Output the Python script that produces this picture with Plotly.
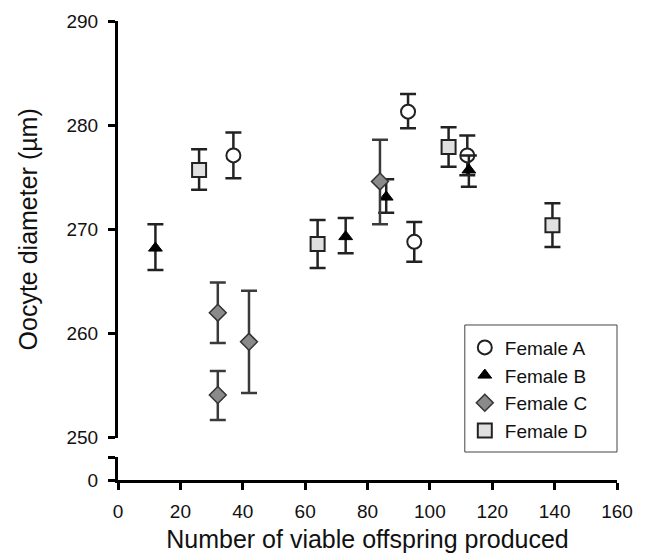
import plotly.graph_objects as go

# Data
a_x = [37, 93, 95, 112]
a_y = [277.1, 281.3, 268.8, 277.1]
a_up = [2.2, 1.7, 1.9, 1.9]
a_dn = [2.2, 1.6, 1.9, 1.9]

b_x = [12, 73, 86, 112.5]
b_y = [268.2, 269.3, 273.1, 275.7]
b_up = [2.3, 1.8, 1.7, 1.4]
b_dn = [2.1, 1.6, 1.5, 1.6]

c_x = [32, 32, 42, 84]
c_y = [262.0, 254.1, 259.2, 274.6]
c_up = [2.9, 2.3, 4.9, 4.0]
c_dn = [2.9, 2.4, 4.9, 4.1]

d_x = [26, 64, 106, 139.3]
d_y = [275.7, 268.6, 277.9, 270.4]
d_up = [2.0, 2.3, 1.9, 2.1]
d_dn = [1.9, 2.3, 1.9, 2.1]

x_ticks = [0, 20, 40, 60, 80, 100, 120, 140, 160]
y_ticks = [250, 260, 270, 280, 290]

FONT = "Liberation Sans, Arial, Helvetica, sans-serif"

def err(up, dn, color="#222"):
    return dict(type="data", symmetric=False, array=up, arrayminus=dn,
                color=color, thickness=2.5, width=8)

fig = go.Figure()
fig.add_trace(go.Scatter(x=a_x, y=a_y, mode="markers", name="Female A",
                         error_y=err(a_up, a_dn),
                         marker=dict(symbol="circle", size=14, color="white",
                                     line=dict(color="#222", width=2))))
fig.add_trace(go.Scatter(x=b_x, y=b_y, mode="markers", name="Female B",
                         error_y=err(b_up, b_dn),
                         marker=dict(symbol="triangle-up", size=12, color="black",
                                     line=dict(color="black", width=1))))
fig.add_trace(go.Scatter(x=c_x, y=c_y, mode="markers", name="Female C",
                         error_y=err(c_up, c_dn, "#3a3a3a"),
                         marker=dict(symbol="diamond", size=13, color="#8a8a8a",
                                     line=dict(color="#333", width=1.5))))
fig.add_trace(go.Scatter(x=d_x, y=d_y, mode="markers", name="Female D",
                         error_y=err(d_up, d_dn),
                         marker=dict(symbol="square", size=14, color="#e0e0e0",
                                     line=dict(color="#222", width=2))))

# invisible trace for the lower (broken) axis segment
fig.add_trace(go.Scatter(x=[0], y=[0], xaxis="x", yaxis="y2", mode="markers",
                         marker=dict(opacity=0), showlegend=False, hoverinfo="skip"))

# legend frame
fig.add_shape(type="rect", xref="paper", yref="paper",
              x0=0.695, x1=1.0, y0=0.061, y1=0.3377,
              line=dict(color="#444", width=1), fillcolor="rgba(0,0,0,0)")

fig.update_layout(
    width=647, height=553,
    margin=dict(l=118, r=30, t=21, b=73, autoexpand=False),
    paper_bgcolor="white", plot_bgcolor="white",
    font=dict(family=FONT, size=19, color="#111"),
    showlegend=True,
    legend=dict(x=0.695, xanchor="left", y=0.330, yanchor="top",
                borderwidth=0, bgcolor="rgba(0,0,0,0)",
                font=dict(size=19, family=FONT, color="#111"),
                tracegroupgap=0, itemwidth=30),
    xaxis=dict(range=[0, 160], tickvals=x_ticks, anchor="y2", automargin=False,
               showline=True, linecolor="black", linewidth=2.5,
               ticks="outside", ticklen=7, tickwidth=2.5, tickcolor="black",
               showgrid=False, zeroline=False, ticklabelstandoff=5,
               title=dict(text="Number of viable offspring produced",
                          font=dict(size=25, family=FONT), standoff=13)),
    yaxis=dict(range=[250, 290], tickvals=y_ticks, domain=[0.0922, 1.0],
               anchor="x", automargin=False,
               showline=True, linecolor="black", linewidth=3,
               ticks="outside", ticklen=7, tickwidth=2.5, tickcolor="black",
               showgrid=False, zeroline=False, ticklabelstandoff=6,
               title=dict(text="Oocyte diameter (µm)",
                          font=dict(size=25, family=FONT), standoff=22)),
    yaxis2=dict(range=[0, 1], tickvals=[0, 1], ticktext=["0", ""],
                domain=[0.0, 0.050], anchor="x", automargin=False,
                showline=True, linecolor="black", linewidth=3,
                ticks="outside", ticklen=7, tickwidth=2.5, tickcolor="black",
                showgrid=False, zeroline=False, ticklabelstandoff=6),
)

fig.write_html("out.html")
